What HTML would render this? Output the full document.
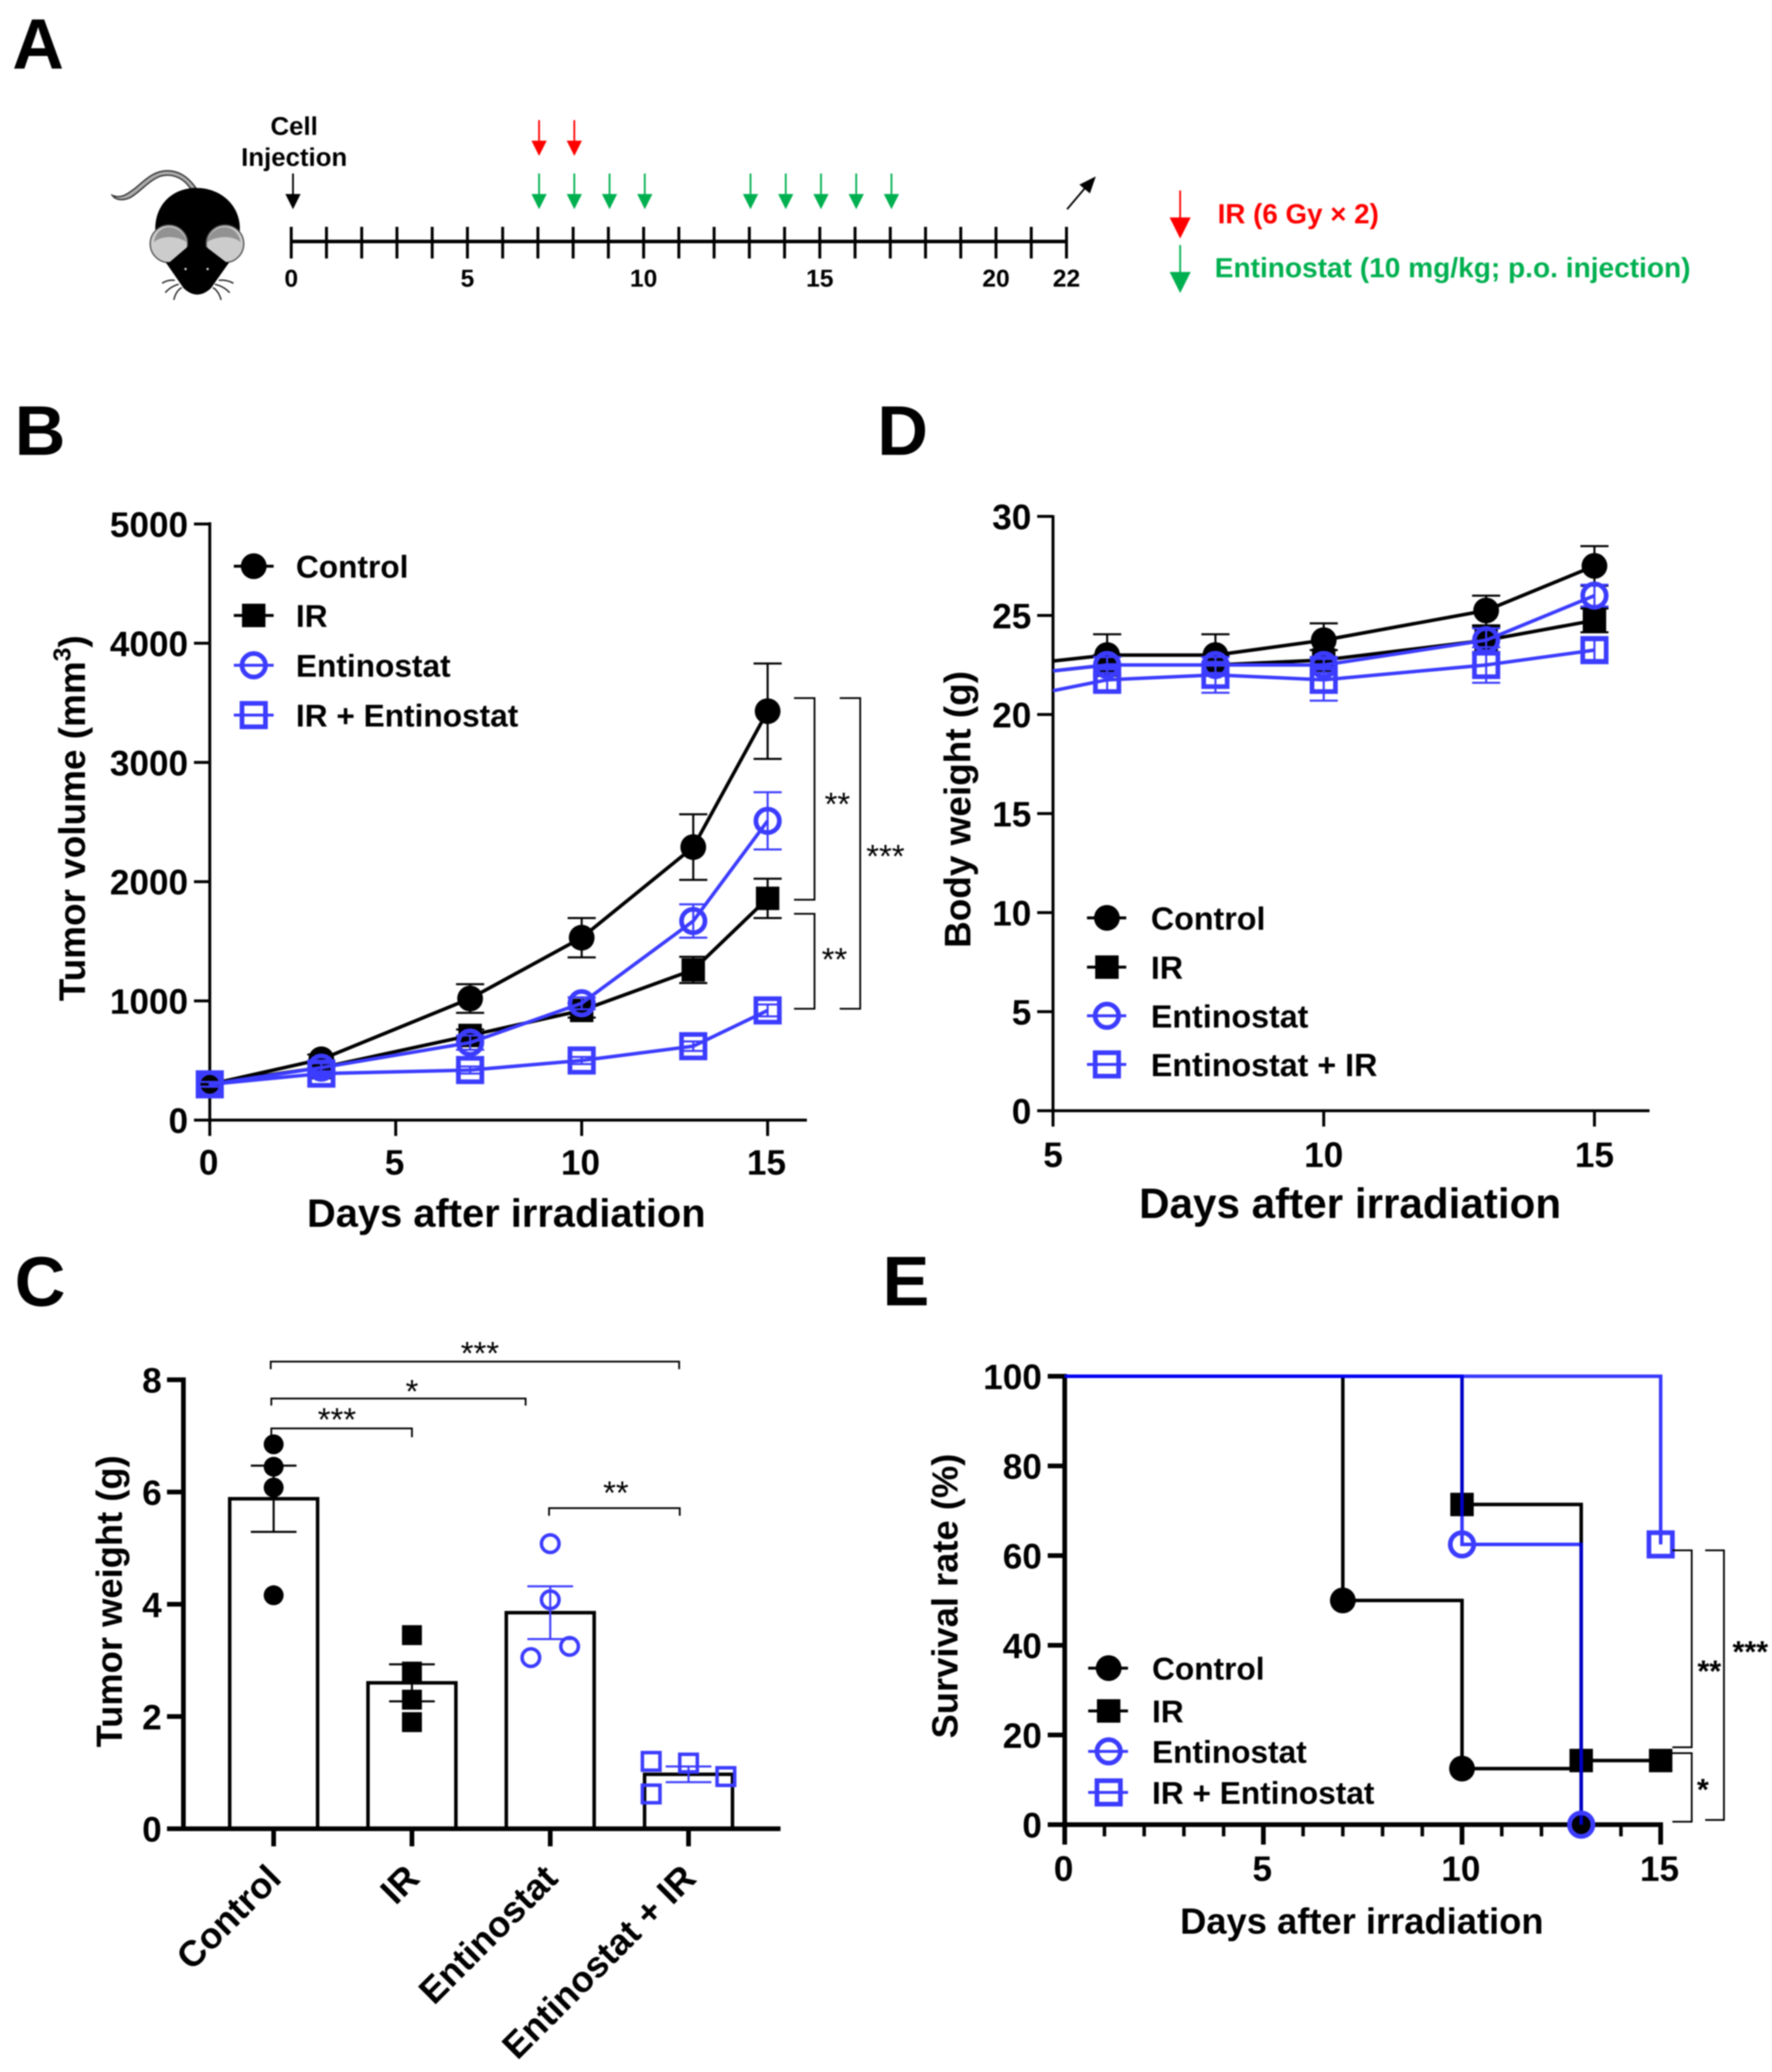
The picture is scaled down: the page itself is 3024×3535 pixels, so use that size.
<!DOCTYPE html>
<html lang="en">
<head>
<meta charset="utf-8">
<title>Entinostat and irradiation tumor study figure</title>
<style>
html,body{margin:0;padding:0;background:#fff;width:3024px;height:3535px;overflow:hidden}
svg{display:block;filter:blur(1px)}
text{font-family:"Liberation Sans",Arial,sans-serif;font-weight:bold;fill:#000}
text.star{font-weight:normal}
</style>
</head>
<body>
<svg id="figure" xmlns="http://www.w3.org/2000/svg" width="3024" height="3535" viewBox="0 0 3024 3535">
<rect width="3024" height="3535" fill="#fff"/>
<text x="21" y="117" font-size="122">A</text>
<text x="25" y="776" font-size="120">B</text>
<text x="1497" y="776" font-size="120">D</text>
<text x="25" y="2228" font-size="120">C</text>
<text x="1506" y="2227" font-size="120">E</text>

<g transform="translate(150,250) scale(0.3333)">
  <path d="M555 215C510 150 460 122 400 124C330 128 290 175 240 215C200 245 170 268 125 250C140 272 175 280 215 262C265 235 310 175 370 152C430 135 490 160 525 215Z" fill="#aaa" stroke="#333" stroke-width="7"/>
  <path d="M555 212C430 212 345 300 345 420L345 500L400 595L490 725Q560 790 630 725L722 595L778 500L778 420C778 300 680 212 555 212Z" fill="#000"/>
  <circle cx="415" cy="498" r="96" fill="#ccc" stroke="#555" stroke-width="7"/>
  <circle cx="702" cy="498" r="96" fill="#ccc" stroke="#555" stroke-width="7"/>
  <path d="M338 490C345 440 380 412 415 412C460 412 500 450 505 490C470 460 380 450 338 490Z" fill="#929292"/>
  <path d="M610 490C615 450 655 412 700 412C740 412 775 445 782 490C740 450 650 460 610 490Z" fill="#929292"/>
  <path d="M512 400L512 512L418 592L400 592L490 725Q560 790 630 725L722 592L708 592L603 512L603 400Z" fill="#000"/>
  <circle cx="500" cy="627" r="6" fill="#ddd"/>
  <circle cx="613" cy="627" r="6" fill="#ddd"/>
  <path d="M445 685Q410 680 380 700M465 705Q425 715 396 748M480 722Q450 740 440 785M670 685Q710 680 745 700M650 705Q695 715 726 748M640 722Q670 740 682 785" fill="none" stroke="#222" stroke-width="7"/>
</g>

<g id="timeline"></g>
<text x="502" y="230" font-size="44" text-anchor="middle">Cell</text>
<text x="502" y="283" font-size="44" text-anchor="middle">Injection</text>
<g>
  <line x1="1821" y1="357" x2="1854" y2="318" stroke="#000" stroke-width="3"/>
  <polygon points="1870,301 1860,330 1842,315" fill="#000"/>
</g>
<g>
  <line x1="2014" y1="325" x2="2014" y2="372" stroke="#f00" stroke-width="3"/>
  <polygon points="1996,371 2032,371 2014,407" fill="#f00"/>
  <text x="2078" y="381" font-size="47" textLength="275" lengthAdjust="spacingAndGlyphs" style="fill:#f00">IR (6 Gy × 2)</text>
</g>
<g>
  <line x1="2014" y1="418" x2="2014" y2="465" stroke="#00b050" stroke-width="3"/>
  <polygon points="1996,464 2032,464 2014,500" fill="#00b050"/>
  <text x="2073" y="473" font-size="47" textLength="812" lengthAdjust="spacingAndGlyphs" style="fill:#00b050">Entinostat (10 mg/kg; p.o. injection)</text>
</g>

<g id="panel-b"></g>
<g fill="none" stroke="#000" stroke-width="3">
  <path d="M1355 1191H1390V1535H1355"/>
  <path d="M1355 1559H1390V1721H1355"/>
  <path d="M1433 1191H1468V1721H1433"/>
</g>
<text class="star" x="1429" y="1391" font-size="56" text-anchor="middle">**</text>
<text class="star" x="1424" y="1656" font-size="56" text-anchor="middle">**</text>
<text class="star" x="1511" y="1480" font-size="56" text-anchor="middle">***</text>

<g id="panel-d"></g>

<g id="panel-c"></g>
<g fill="none" stroke="#000" stroke-width="3">
  <path d="M462 2336V2323H1159V2336"/>
  <path d="M463 2398V2386H897V2398"/>
  <path d="M463 2452V2437H703V2452"/>
  <path d="M937 2586V2573H1160V2586"/>
</g>
<text class="star" x="819" y="2328" font-size="56" text-anchor="middle">***</text>
<text class="star" x="703" y="2393" font-size="56" text-anchor="middle">*</text>
<text class="star" x="575" y="2441" font-size="56" text-anchor="middle">***</text>
<text class="star" x="1051" y="2566" font-size="56" text-anchor="middle">**</text>

<g id="panel-e"></g>
<g fill="none" stroke="#000" stroke-width="3">
  <path d="M2854 2645H2887V2981H2854"/>
  <path d="M2854 2991H2887V3108H2854"/>
  <path d="M2910 2645H2942V3105H2910"/>
</g>
<text x="2917" y="2869" font-size="52" text-anchor="middle">**</text>
<text x="2906" y="3071" font-size="52" text-anchor="middle">*</text>
<text x="2987" y="2836" font-size="52" text-anchor="middle">***</text>
</svg>

<script>
/* ---------- Timeline data ---------- */
var timelineDays = 22;
var timelineLabels = [0, 5, 10, 15, 20, 22];
var irDays = [7, 8];
var entinostatDays = [7, 8, 9, 10, 13, 14, 15, 16, 17];
var injectionDays = [0];

/* ---------- Panel B: tumor volume ---------- */
var tumorDays = [0, 3, 7, 10, 13, 15];
var tumorControl = [300, 510, 1020, 1530, 2290, 3430];
var tumorControlErr = [20, 40, 120, 165, 275, 400];
var tumorIR = [310, 440, 710, 920, 1260, 1860];
var tumorIRErr = [20, 30, 50, 60, 110, 165];
var tumorEnt = [300, 440, 650, 980, 1670, 2510];
var tumorEntErr = [20, 40, 60, 50, 140, 240];
var tumorCombo = [300, 390, 420, 500, 620, 920];
var tumorComboErr = [20, 20, 30, 30, 40, 50];
var tumorYTicks = [0, 1000, 2000, 3000, 4000, 5000];
var tumorXTicks = [0, 5, 10, 15];

/* ---------- Panel D: body weight ---------- */
var weightDays = [5, 6, 8, 10, 13, 15];
var weightControl = [22.7, 23, 23, 23.75, 25.25, 27.5];
var weightControlErr = [0, 1.05, 1.05, 0.85, 0.75, 1.0];
var weightIR = [22.2, 22.5, 22.5, 22.75, 23.75, 24.75];
var weightIRErr = [0, 0.5, 0.5, 0.5, 0.7, 0.6];
var weightEnt = [22.2, 22.5, 22.5, 22.5, 23.75, 26];
var weightEntErr = [0, 0.4, 0.4, 0.4, 0.6, 0.55];
var weightCombo = [21.2, 21.75, 22, 21.75, 22.5, 23.25];
var weightComboErr = [0, 0.55, 0.9, 1.05, 0.9, 0.5];
var weightYTicks = [0, 5, 10, 15, 20, 25, 30];
var weightXTicks = [5, 10, 15];

/* ---------- Panel C: tumor weight ---------- */
var barCategories = ['Control', 'IR', 'Entinostat', 'Entinostat + IR'];
var barMeans = [5.88, 2.6, 3.85, 0.97];
var barErrors = [0.59, 0.33, 0.47, 0.14];
var pointsControl = [6.85, 6.45, 6.08, 4.16];
var pointsIR = [3.45, 2.8, 2.3, 1.9];
var pointsEnt = [5.08, 4.08, 3.25, 3.05];
var pointsCombo = [1.2, 1.17, 0.93, 0.62];
var barYTicks = [0, 2, 4, 6, 8];

/* ---------- Panel E: survival ---------- */
var survControlDays = [0, 7, 10, 13];
var survControl = [100, 50, 12.5, 0];
var survIRDays = [0, 10, 13, 15];
var survIR = [100, 71.4, 14.3, 14.3];
var survEntDays = [0, 10, 13];
var survEnt = [100, 62.5, 0];
var survComboDays = [0, 15];
var survCombo = [100, 62.5];
var survYTicks = [0, 20, 40, 60, 80, 100];
var survXMajor = [0, 5, 10, 15];
var survXMinor = [1, 2, 3, 4, 6, 7, 8, 9, 11, 12, 13, 14];

/* ---------- Helpers ---------- */
var NS = 'http://www.w3.org/2000/svg';
var BLACK = '#000000';
var BLUE = '#3c3cff';

function mk(parent, tag, attrs, txt) {
  var n = document.createElementNS(NS, tag);
  for (var k in attrs) { n.setAttribute(k, attrs[k]); }
  if (txt !== undefined) { n.textContent = txt; }
  parent.appendChild(n);
  return n;
}
function nameIt(n, name) {
  
  
  return n;
}
function linear(d0, d1, r0, r1) {
  return function (v) { return r0 + (v - d0) * (r1 - r0) / (d1 - d0); };
}
function marker(parent, kind, x, y, color, name) {
  var n;
  if (kind === 'disc') { n = mk(parent, 'circle', {cx: x, cy: y, r: 22, fill: color}); }
  else if (kind === 'square') { n = mk(parent, 'rect', {x: x - 20, y: y - 20, width: 40, height: 40, fill: color}); }
  else if (kind === 'ring') { n = mk(parent, 'circle', {cx: x, cy: y, r: 20, fill: 'none', stroke: color, 'stroke-width': 8}); }
  else { n = mk(parent, 'rect', {x: x - 20, y: y - 20, width: 40, height: 40, fill: 'none', stroke: color, 'stroke-width': 8}); }
  nameIt(n, name);
  return n;
}
function line(parent, x1, y1, x2, y2, color, w, name) {
  var n = mk(parent, 'line', {x1: x1, y1: y1, x2: x2, y2: y2, stroke: color, 'stroke-width': w});
  nameIt(n, name);
  return n;
}
function label(parent, x, y, size, anchor, s, name) {
  var n = mk(parent, 'text', {x: x, y: y, 'font-size': size, 'text-anchor': anchor}, s);
  nameIt(n, name);
  return n;
}
function arrow(parent, x, y1, y2, color, name) {
  var g = nameIt(mk(parent, 'g', {}), name);
  line(g, x, y1, x, y2 - 24, color, 3, name + '-shaft');
  nameIt(mk(g, 'polygon', {points: (x - 13) + ',' + (y2 - 26) + ' ' + (x + 13) + ',' + (y2 - 26) + ' ' + x + ',' + y2, fill: color}), name + '-head');
}
function legend(parent, rows, lineX1, lineX2, markX, textX, size) {
  var g = nameIt(mk(parent, 'g', {}), 'legend');
  rows.forEach(function (r) {
    var e = nameIt(mk(g, 'g', {}), 'legend-entry-' + r.slug);
    line(e, lineX1, r.y, lineX2, r.y, r.color, 5, 'legend-line-' + r.slug);
    marker(e, r.kind, markX, r.y, r.color, 'legend-marker-' + r.slug);
    label(e, textX, r.y + size * 0.36, size, 'start', r.text, 'legend-label-' + r.slug);
  });
}
function lineSeries(parent, days, vals, errs, xs, ys, color, kind, slug, minX) {
  var g = nameIt(mk(parent, 'g', {}), 'series-' + slug);
  var pts = days.map(function (d, i) { return xs(d) + ',' + ys(vals[i]); }).join(' ');
  nameIt(mk(g, 'polyline', {points: pts, fill: 'none', stroke: color, 'stroke-width': 6}), 'line-' + slug);
  days.forEach(function (d, i) {
    if (d <= minX) { return; }
    var x = xs(d), hi = ys(vals[i] + errs[i]), lo = ys(vals[i] - errs[i]);
    line(g, x, hi, x, lo, color, 3.5, 'error-bar-' + slug + '-' + d);
    line(g, x - 24, hi, x + 24, hi, color, 3.5, 'error-cap-top-' + slug + '-' + d);
    line(g, x - 24, lo, x + 24, lo, color, 3.5, 'error-cap-bottom-' + slug + '-' + d);
    marker(g, kind, x, ys(vals[i]), color, 'point-' + slug + '-' + d);
  });
}

/* ---------- Timeline ---------- */
(function () {
  var root = document.getElementById('timeline');
  var x = linear(0, timelineDays, 497, 1820);
  line(root, x(0), 412, x(timelineDays), 412, BLACK, 6, 'timeline-axis');
  for (var d = 0; d <= timelineDays; d++) {
    line(root, x(d), 387, x(d), 441, BLACK, 5, 'timeline-tick-' + d);
  }
  timelineLabels.forEach(function (d) {
    label(root, x(d), 489, 42, 'middle', String(d), 'timeline-label-' + d);
  });
  injectionDays.forEach(function (d) { arrow(root, x(d) + 3, 296, 357, BLACK, 'injection-arrow'); });
  irDays.forEach(function (d) { arrow(root, x(d) + 2, 205, 266, '#ff0000', 'ir-arrow-day-' + d); });
  entinostatDays.forEach(function (d) { arrow(root, x(d) + 2, 296, 357, '#00b050', 'entinostat-arrow-day-' + d); });
})();

/* ---------- Panel B ---------- */
(function () {
  var root = document.getElementById('panel-b');
  var xs = linear(0, 15, 358, 1310);
  var ys = linear(0, 5000, 1911, 894);
  line(root, 358, 891, 358, 1911, BLACK, 5, 'y-axis');
  line(root, 331, 1911, 1377, 1911, BLACK, 5, 'x-axis');
  tumorYTicks.forEach(function (v) {
    line(root, 331, ys(v), 358, ys(v), BLACK, 5, 'y-tick-' + v);
    label(root, 321, ys(v) + 22, 60, 'end', String(v), 'y-tick-label-' + v);
  });
  tumorXTicks.forEach(function (v) {
    line(root, xs(v), 1911, xs(v), 1938, BLACK, 5, 'x-tick-' + v);
    label(root, xs(v) - 2, 2004, 60, 'middle', String(v), 'x-tick-label-' + v);
  });
  label(root, 864, 2093, 68, 'middle', 'Days after irradiation', 'x-axis-title');
  var t = nameIt(mk(root, 'text', {transform: 'translate(145,1396) rotate(-90)', 'font-size': 63, 'text-anchor': 'middle'}), 'y-axis-title');
  t.appendChild(document.createTextNode('Tumor volume (mm'));
  mk(t, 'tspan', {'font-size': 42, dy: -25}, '3');
  mk(t, 'tspan', {dy: 25}, ')');
  lineSeries(root, tumorDays, tumorControl, tumorControlErr, xs, ys, BLACK, 'disc', 'control', -1);
  lineSeries(root, tumorDays, tumorIR, tumorIRErr, xs, ys, BLACK, 'square', 'ir', -1);
  lineSeries(root, tumorDays, tumorEnt, tumorEntErr, xs, ys, BLUE, 'ring', 'entinostat', -1);
  lineSeries(root, tumorDays, tumorCombo, tumorComboErr, xs, ys, BLUE, 'box', 'ir-entinostat', -1);
  legend(root, [
    {y: 966, color: BLACK, kind: 'disc', text: 'Control', slug: 'control'},
    {y: 1050, color: BLACK, kind: 'square', text: 'IR', slug: 'ir'},
    {y: 1135, color: BLUE, kind: 'ring', text: 'Entinostat', slug: 'entinostat'},
    {y: 1220, color: BLUE, kind: 'box', text: 'IR + Entinostat', slug: 'ir-entinostat'}
  ], 399, 467, 433, 505, 54);
})();

/* ---------- Panel D ---------- */
(function () {
  var root = document.getElementById('panel-d');
  var xs = linear(5, 15, 1797, 2721);
  var ys = linear(0, 30, 1895, 881);
  line(root, 1797, 879, 1797, 1895, BLACK, 5, 'y-axis');
  line(root, 1770, 1895, 2815, 1895, BLACK, 5, 'x-axis');
  weightYTicks.forEach(function (v) {
    line(root, 1770, ys(v), 1797, ys(v), BLACK, 5, 'y-tick-' + v);
    label(root, 1760, ys(v) + 22, 60, 'end', String(v), 'y-tick-label-' + v);
  });
  weightXTicks.forEach(function (v) {
    line(root, xs(v), 1895, xs(v), 1922, BLACK, 5, 'x-tick-' + v);
    label(root, xs(v), 1991, 60, 'middle', String(v), 'x-tick-label-' + v);
  });
  label(root, 2304, 2078, 72, 'middle', 'Days after irradiation', 'x-axis-title');
  nameIt(mk(root, 'text', {transform: 'translate(1656,1381) rotate(-90)', 'font-size': 63, 'text-anchor': 'middle'}, 'Body weight (g)'), 'y-axis-title');
  lineSeries(root, weightDays, weightControl, weightControlErr, xs, ys, BLACK, 'disc', 'control', 5);
  lineSeries(root, weightDays, weightIR, weightIRErr, xs, ys, BLACK, 'square', 'ir', 5);
  lineSeries(root, weightDays, weightEnt, weightEntErr, xs, ys, BLUE, 'ring', 'entinostat', 5);
  lineSeries(root, weightDays, weightCombo, weightComboErr, xs, ys, BLUE, 'box', 'entinostat-ir', 5);
  legend(root, [
    {y: 1566, color: BLACK, kind: 'disc', text: 'Control', slug: 'control'},
    {y: 1650, color: BLACK, kind: 'square', text: 'IR', slug: 'ir'},
    {y: 1733, color: BLUE, kind: 'ring', text: 'Entinostat', slug: 'entinostat'},
    {y: 1816, color: BLUE, kind: 'box', text: 'Entinostat + IR', slug: 'entinostat-ir'}
  ], 1855, 1922, 1889, 1964, 55);
})();

/* ---------- Panel C ---------- */
(function () {
  var root = document.getElementById('panel-c');
  var xs = linear(0, 3, 467, 1175);
  var ys = linear(0, 8, 3120, 2354);
  var groups = [pointsControl, pointsIR, pointsEnt, pointsCombo];
  var kinds = ['disc', 'square', 'ring', 'box'];
  var colors = [BLACK, BLACK, BLUE, BLUE];
  var swarmOffset = [[0, 0, 0, 0], [0, 0, 0, 0], [0, 0, 0.14, -0.14], [-0.27, 0, 0.27, -0.27]];
  barCategories.forEach(function (c, i) {
    var cx = xs(i);
    var slug = c.toLowerCase().replace(/[^a-z]+/g, '-');
    var b = mk(root, 'rect', {x: cx - 75, y: ys(barMeans[i]), width: 150, height: ys(0) - ys(barMeans[i]), fill: 'none', stroke: BLACK, 'stroke-width': 6});
    nameIt(b, 'bar-' + slug);
    var hi = ys(barMeans[i] + barErrors[i]), lo = ys(barMeans[i] - barErrors[i]);
    line(root, cx, hi, cx, lo, colors[i], 3.5, 'error-bar-' + slug);
    line(root, cx - 39, hi, cx + 39, hi, colors[i], 3.5, 'error-cap-top-' + slug);
    line(root, cx - 39, lo, cx + 39, lo, colors[i], 3.5, 'error-cap-bottom-' + slug);
    groups[i].forEach(function (v, j) {
      var m = marker(root, kinds[i], xs(i + swarmOffset[i][j]), ys(v), colors[i], 'point-' + slug + '-' + (j + 1));
      if (kinds[i] === 'disc') { m.setAttribute('r', 17); }
      if (kinds[i] === 'square') { m.setAttribute('x', xs(i) - 17); m.setAttribute('y', ys(v) - 17); m.setAttribute('width', 34); m.setAttribute('height', 34); }
      if (kinds[i] === 'ring') { m.setAttribute('r', 15); m.setAttribute('stroke-width', 6); }
      if (kinds[i] === 'box') { m.setAttribute('x', xs(i + swarmOffset[i][j]) - 15); m.setAttribute('y', ys(v) - 15); m.setAttribute('width', 30); m.setAttribute('height', 30); m.setAttribute('stroke-width', 6); }
    });
    line(root, cx, 3120, cx, 3150, BLACK, 8, 'x-tick-' + slug);
    var tx = cx + 16, ty = 3208;
    nameIt(mk(root, 'text', {transform: 'translate(' + tx + ',' + ty + ') rotate(-45)', 'font-size': 62, 'text-anchor': 'end'}, c), 'category-label-' + slug);
  });
  line(root, 313, 2350, 313, 3120, BLACK, 8, 'y-axis');
  line(root, 285, 3120, 1332, 3120, BLACK, 8, 'x-axis');
  barYTicks.forEach(function (v) {
    line(root, 285, ys(v), 313, ys(v), BLACK, 8, 'y-tick-' + v);
    label(root, 276, ys(v) + 22, 60, 'end', String(v), 'y-tick-label-' + v);
  });
  nameIt(mk(root, 'text', {transform: 'translate(208,2732) rotate(-90)', 'font-size': 62, 'text-anchor': 'middle'}, 'Tumor weight (g)'), 'y-axis-title');
})();

/* ---------- Panel E ---------- */
(function () {
  var root = document.getElementById('panel-e');
  var xs = linear(0, 15, 1817, 2834);
  var ys = linear(0, 100, 3113, 2348);
  line(root, 1817, 2344, 1817, 3113, BLACK, 8, 'y-axis');
  line(root, 1788, 3113, 2838, 3113, BLACK, 8, 'x-axis');
  survYTicks.forEach(function (v) {
    line(root, 1788, ys(v), 1817, ys(v), BLACK, 8, 'y-tick-' + v);
    label(root, 1778, ys(v) + 22, 60, 'end', String(v), 'y-tick-label-' + v);
  });
  survXMajor.forEach(function (v) {
    line(root, xs(v), 3113, xs(v), 3147, BLACK, 8, 'x-tick-' + v);
    label(root, xs(v) - 2, 3209, 60, 'middle', String(v), 'x-tick-label-' + v);
  });
  survXMinor.forEach(function (v) {
    line(root, xs(v), 3113, xs(v), 3133, BLACK, 6, 'x-minor-tick-' + v);
  });
  label(root, 2324, 3299, 62, 'middle', 'Days after irradiation', 'x-axis-title');
  nameIt(mk(root, 'text', {transform: 'translate(1634,2723) rotate(-90)', 'font-size': 62, 'text-anchor': 'middle'}, 'Survival rate (%)'), 'y-axis-title');
  function steps(days, vals, color, opacity, kind, slug) {
    var g = nameIt(mk(root, 'g', {}), 'series-' + slug);
    var d = 'M' + xs(days[0]) + ' ' + ys(vals[0]);
    for (var i = 1; i < days.length; i++) {
      d += 'H' + xs(days[i]) + 'V' + ys(vals[i]);
    }
    nameIt(mk(g, 'path', {d: d, fill: 'none', stroke: color, 'stroke-width': 6, 'stroke-opacity': opacity}), 'step-line-' + slug);
    return g;
  }
  function dots(g, days, vals, color, kind, slug) {
    for (var i = 1; i < days.length; i++) {
      marker(g, kind, xs(days[i]), ys(vals[i]), color, 'point-' + slug + '-' + days[i]);
    }
  }
  var g1 = steps(survControlDays, survControl, BLACK, 1, 'disc', 'control');
  dots(g1, survControlDays, survControl, BLACK, 'disc', 'control');
  var g2 = steps(survIRDays, survIR, BLACK, 1, 'square', 'ir');
  dots(g2, survIRDays, survIR, BLACK, 'square', 'ir');
  var g3 = steps(survEntDays, survEnt, '#0000ff', 0.78, 'ring', 'entinostat');
  dots(g3, survEntDays, survEnt, BLUE, 'ring', 'entinostat');
  var g4 = steps(survComboDays, survCombo, '#0000ff', 0.78, 'box', 'ir-entinostat');
  dots(g4, survComboDays, survCombo, BLUE, 'box', 'ir-entinostat');
  legend(root, [
    {y: 2846, color: BLACK, kind: 'disc', text: 'Control', slug: 'control'},
    {y: 2919, color: BLACK, kind: 'square', text: 'IR', slug: 'ir'},
    {y: 2988, color: BLUE, kind: 'ring', text: 'Entinostat', slug: 'entinostat'},
    {y: 3058, color: BLUE, kind: 'box', text: 'IR + Entinostat', slug: 'ir-entinostat'}
  ], 1857, 1925, 1892, 1966, 54);
})();
</script>
</body>
</html>
